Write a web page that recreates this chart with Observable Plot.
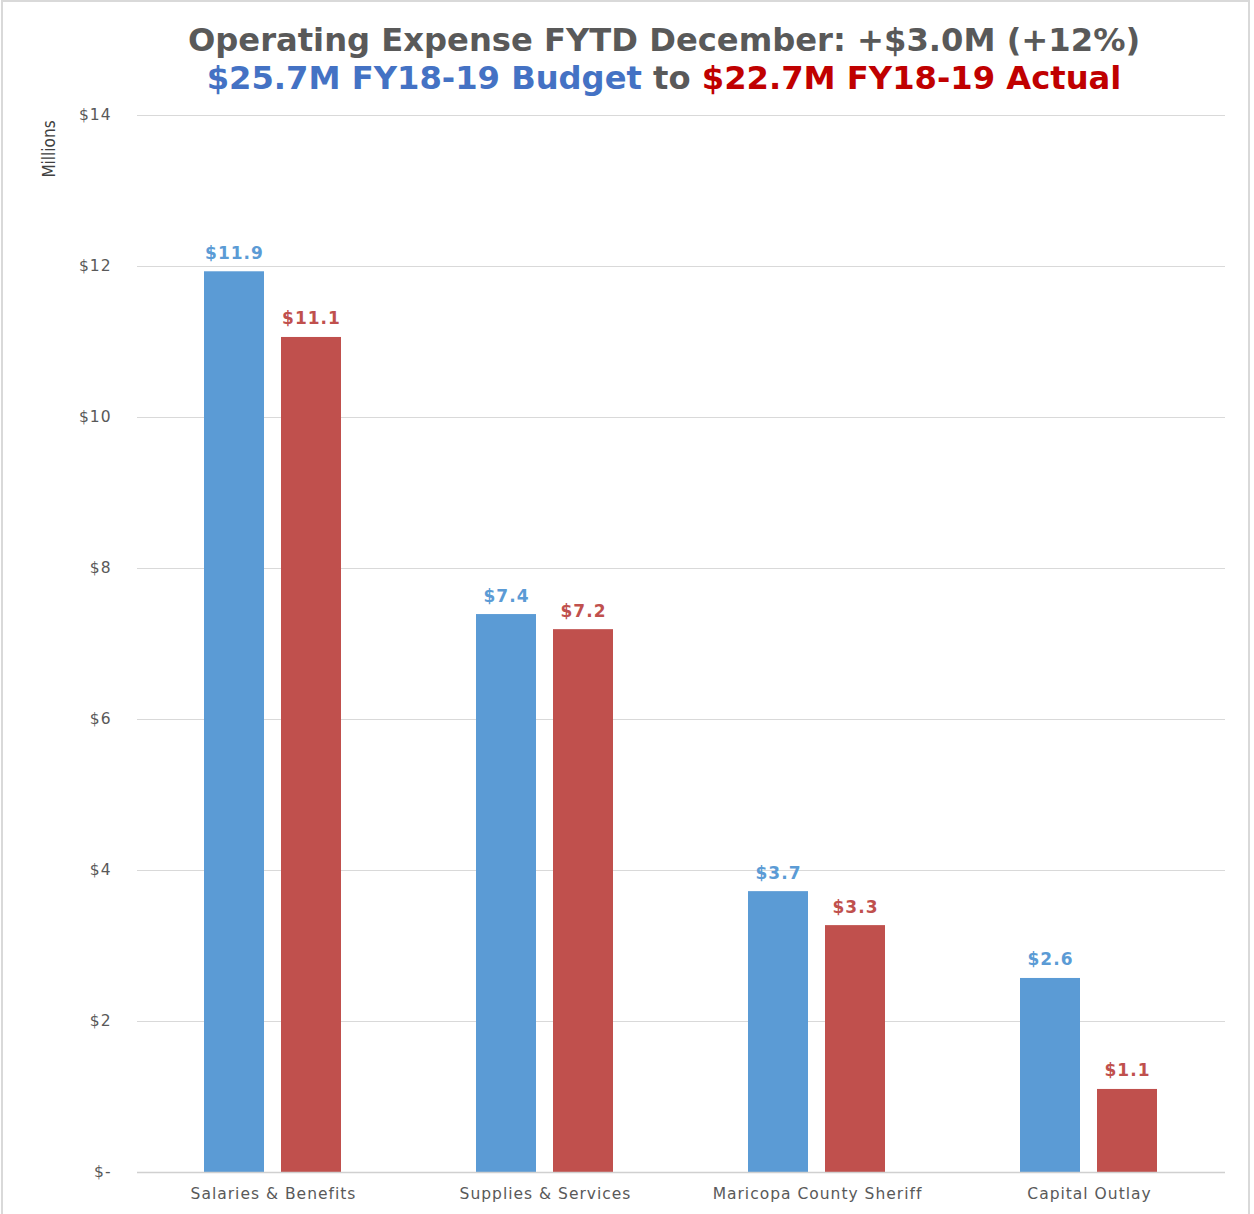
<!DOCTYPE html>
<html>
<head>
<meta charset="utf-8">
<script src="https://cdn.jsdelivr.net/npm/d3@7"></script>
<script src="https://cdn.jsdelivr.net/npm/@observablehq/plot@0.6"></script>
<style>
  html, body { margin: 0; padding: 0; background: #fff; }
  #page { position: relative; width: 1254px; height: 1214px; overflow: hidden; background: #fff; }
  #border { position: absolute; left: 1px; top: 0; width: 1249px; height: 1214px; box-sizing: border-box; border: 2px solid #d9d9d9; border-bottom: none; pointer-events: none; }
  #title { position: absolute; left: 74px; top: 0; width: 1180px; height: 100px; text-align: center; font-family: "DejaVu Sans", sans-serif; font-weight: bold; font-size: 32.2px; }
  #title .l1 { position: absolute; left: 0; width: 100%; top: 21px; color: #595959; }
  #title .l2 { position: absolute; left: 0; width: 100%; top: 59px; color: #595959; }
  #chart { position: absolute; left: 0; top: 96px; width: 1254px; }
  #chart svg { max-width: none !important; }
</style>
</head>
<body>
<div id="page">
  <div id="title">
    <div class="l1">Operating Expense FYTD December: +$3.0M (+12%)</div>
    <div class="l2"><span style="color:#4472C4">$25.7M FY18-19 Budget</span> to <span style="color:#C00000">$22.7M FY18-19 Actual</span></div>
  </div>
  <div id="chart"></div>
  <div id="border"></div>
</div>
<script>
const categories = ["Salaries & Benefits", "Supplies & Services", "Maricopa County Sheriff", "Capital Outlay"];
const seriesNames = ["Budget", "Actual"];
const budget = [11.93, 7.39, 3.72, 2.57];
const actual = [11.06, 7.19, 3.27, 1.10];
const yTicks = [0, 2, 4, 6, 8, 10, 12, 14];
const seriesColors = ["#5B9BD5", "#C0504D"];

const data = [];
categories.forEach((c, i) => {
  data.push({category: c, series: "Budget", value: budget[i]});
  data.push({category: c, series: "Actual", value: actual[i]});
});

const fmt = d => "$" + d3.format(".1f")(d);

const chart = Plot.plot({
  width: 1254,
  height: 1118,
  marginTop: 19,
  marginBottom: 42,
  marginLeft: 136,
  marginRight: 28,
  style: { fontFamily: "DejaVu Sans, sans-serif", fontSize: "15.5px", color: "#595959", background: "transparent", letterSpacing: "1px", maxWidth: "none" },
  fx: { domain: categories, padding: 0, label: null, axis: "bottom", tickSize: 0, tickPadding: 15 },
  x: { domain: seriesNames, axis: null, paddingInner: 0.218, paddingOuter: 0.856 },
  y: { domain: [0, 14], ticks: yTicks, label: null, tickSize: 0, tickPadding: 26, tickFormat: d => d === 0 ? "$-" : "$" + d },
  color: { domain: seriesNames, range: seriesColors },
  marks: [
    Plot.ruleY(yTicks.filter(d => d > 0), { stroke: "#d9d9d9", strokeWidth: 1.2 }),
    Plot.barY(data, { fx: "category", x: "series", y: "value", fill: "series" }),
    Plot.ruleY([0], { stroke: "#d0d0d0", strokeWidth: 1.5 }),
    Plot.text(data, { fx: "category", x: "series", y: "value", text: d => fmt(d.value), fill: "series", lineAnchor: "bottom", dy: -13, fontWeight: "bold", fontSize: 17 })
  ]
});

document.getElementById("chart").appendChild(chart);

// rotated y-axis label
d3.select(chart).append("text")
  .attr("transform", "translate(55,53) rotate(-90)")
  .attr("text-anchor", "middle")
  .attr("font-family", "Liberation Sans Narrow, DejaVu Sans Condensed, sans-serif")
  .attr("font-size", 17)
  .attr("letter-spacing", 0)
  .attr("fill", "#404040")
  .text("Millions");
</script>
</body>
</html>
